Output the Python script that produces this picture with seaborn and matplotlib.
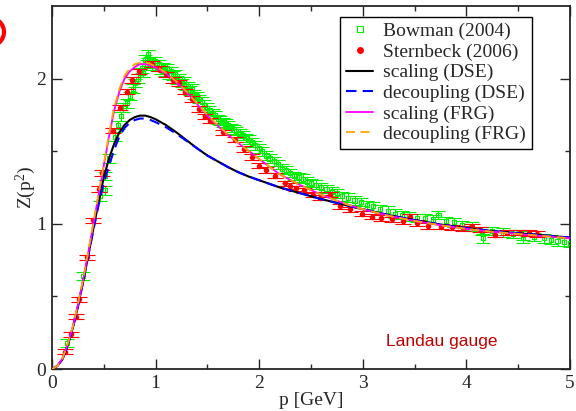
import numpy as np
import pandas as pd
import matplotlib
matplotlib.use("Agg")
import matplotlib.pyplot as plt
from matplotlib.lines import Line2D
from matplotlib.patches import Ellipse
import seaborn as sns

# ---------------- data ----------------
p_curve = [0, 0.05, 0.1, 0.15, 0.2, 0.25, 0.3, 0.35, 0.4, 0.45, 0.5, 0.55, 0.6, 0.65, 0.7,
           0.75, 0.8, 0.85, 0.9, 0.95, 1.0, 1.1, 1.2, 1.3, 1.4, 1.5, 1.6, 1.7, 1.8, 1.9, 2.0,
           2.2, 2.4, 2.6, 2.8, 3.0, 3.25, 3.5, 3.75, 4.0, 4.25, 4.5, 4.75, 5.0]
z_scaling_dse = [0, 0.02, 0.065, 0.16, 0.28, 0.43, 0.60, 0.78, 0.97, 1.15, 1.32, 1.45, 1.55,
                 1.63, 1.68, 1.715, 1.735, 1.745, 1.745, 1.735, 1.72, 1.68, 1.63, 1.575, 1.52,
                 1.47, 1.43, 1.39, 1.355, 1.325, 1.30, 1.25, 1.21, 1.17, 1.135, 1.10, 1.06,
                 1.025, 0.995, 0.97, 0.95, 0.935, 0.92, 0.905]
z_decoupling_dse = [0, 0.02, 0.065, 0.16, 0.28, 0.43, 0.60, 0.78, 0.96, 1.13, 1.28, 1.40, 1.51,
                    1.60, 1.66, 1.695, 1.715, 1.725, 1.725, 1.715, 1.70, 1.665, 1.62, 1.57, 1.52,
                    1.47, 1.43, 1.39, 1.355, 1.325, 1.30, 1.25, 1.21, 1.17, 1.135, 1.10, 1.06,
                    1.025, 0.995, 0.97, 0.95, 0.935, 0.92, 0.905]
z_scaling_frg = [0, 0.02, 0.07, 0.17, 0.29, 0.44, 0.61, 0.80, 1.00, 1.20, 1.40, 1.60, 1.78,
                 1.91, 2.00, 2.05, 2.08, 2.10, 2.10, 2.09, 2.075, 2.035, 1.975, 1.905, 1.825,
                 1.745, 1.675, 1.61, 1.555, 1.50, 1.445, 1.34, 1.265, 1.20, 1.145, 1.10, 1.055,
                 1.02, 0.99, 0.965, 0.945, 0.93, 0.915, 0.90]
z_decoupling_frg = [0, 0.02, 0.07, 0.17, 0.29, 0.45, 0.62, 0.81, 1.01, 1.21, 1.41, 1.62, 1.80,
                    1.93, 2.02, 2.07, 2.10, 2.11, 2.115, 2.10, 2.085, 2.04, 1.98, 1.91, 1.83,
                    1.75, 1.68, 1.615, 1.555, 1.50, 1.445, 1.34, 1.265, 1.20, 1.145, 1.10, 1.055,
                    1.02, 0.99, 0.965, 0.945, 0.93, 0.915, 0.90]

p_sternbeck = [0.125, 0.183, 0.228, 0.264, 0.341, 0.399, 0.457, 0.486, 0.592, 0.656, 0.72,
               0.775, 0.843, 0.962, 1.03, 1.10, 1.165, 1.226, 1.284, 1.348, 1.42, 1.477, 1.525,
               1.654, 1.766, 1.85, 1.93, 2.0, 2.07, 2.15, 2.25, 2.30, 2.36, 2.43, 2.52, 2.59,
               2.68, 2.78, 2.88, 2.99, 3.09, 3.18, 3.28, 3.39, 3.46, 3.52, 3.63, 3.75, 3.86,
               3.97, 4.05, 4.13, 4.28, 4.39, 4.52, 4.60, 4.68]
z_sternbeck = [0.12, 0.24, 0.36, 0.48, 0.77, 1.025, 1.24, 1.35, 1.64, 1.80, 1.91, 1.99, 2.05,
               2.10, 2.07, 2.03, 1.99, 1.97, 1.91, 1.86, 1.79, 1.74, 1.71, 1.63, 1.58, 1.515,
               1.46, 1.40, 1.37, 1.33, 1.28, 1.26, 1.245, 1.23, 1.20, 1.18, 1.20, 1.12, 1.10,
               1.07, 1.05, 1.04, 1.03, 1.02, 1.05, 1.005, 0.985, 0.98, 0.977, 0.97, 0.98, 0.96,
               0.924, 0.94, 0.94, 0.936, 0.93]

p_bowman = [0.142, 0.303, 0.463, 0.51, 0.51, 0.55, 0.61, 0.64, 0.67, 0.69, 0.72, 0.75, 0.78,
            0.80, 0.83, 0.85, 0.87, 0.88, 0.90, 0.92, 0.93, 0.95, 0.97, 0.99, 1.01, 1.03, 1.05,
            1.07, 1.09, 1.11, 1.13, 1.15, 1.17, 1.19, 1.21, 1.23, 1.25, 1.27, 1.29, 1.31, 1.33,
            1.35, 1.37, 1.40, 1.42, 1.45, 1.47, 1.50, 1.52, 1.55, 1.57, 1.60, 1.62, 1.65, 1.68,
            1.70, 1.73, 1.76, 1.78, 1.81, 1.84, 1.87, 1.90, 1.93, 1.96, 2.00, 2.03, 2.07, 2.10,
            2.14, 2.18, 2.22, 2.26, 2.30, 2.34, 2.38, 2.42, 2.46, 2.50, 2.55, 2.60, 2.65, 2.70,
            2.75, 2.80, 2.86, 2.92, 2.98, 3.04, 3.10, 3.17, 3.24, 3.31, 3.38, 3.45, 3.52, 3.60,
            3.68, 3.73, 3.80, 3.88, 3.96, 4.05, 4.15, 4.16, 4.25, 4.35, 4.45, 4.55, 4.55, 4.65,
            4.75, 4.82, 4.88, 4.94, 5.0]
z_bowman = [0.18, 0.64, 1.19, 1.23, 1.33, 1.45, 1.60, 1.68, 1.74, 1.80, 1.83, 1.88, 1.93,
            1.97, 2.00, 2.04, 2.07, 2.04, 2.13, 2.10, 2.17, 2.12, 2.09, 2.12, 2.08, 2.10, 2.06,
            2.08, 2.05, 2.07, 2.03, 2.05, 2.02, 2.03, 1.99, 2.00, 1.97, 1.98, 1.95, 1.95, 1.92,
            1.93, 1.89, 1.88, 1.86, 1.84, 1.82, 1.80, 1.78, 1.76, 1.75, 1.72, 1.71, 1.70, 1.69,
            1.68, 1.66, 1.65, 1.64, 1.62, 1.61, 1.59, 1.58, 1.56, 1.54, 1.52, 1.50, 1.47, 1.45,
            1.43, 1.41, 1.38, 1.37, 1.35, 1.33, 1.32, 1.31, 1.29, 1.28, 1.27, 1.25, 1.24, 1.22,
            1.21, 1.19, 1.18, 1.16, 1.15, 1.13, 1.12, 1.10, 1.09, 1.07, 1.06, 1.05, 1.04, 1.04,
            1.03, 1.06, 1.02, 1.01, 0.99, 0.98, 0.95, 0.90, 0.95, 0.94, 0.93, 0.92, 0.90, 0.91,
            0.90, 0.89, 0.88, 0.875, 0.87]

# ---------------- style ----------------
sns.set_style("ticks")
plt.rcParams["font.family"] = ["Liberation Serif", "DejaVu Serif"]
plt.rcParams["mathtext.fontset"] = "custom"
plt.rcParams["mathtext.rm"] = "Liberation Serif"
plt.rcParams["mathtext.default"] = "regular"

fig = plt.figure(figsize=(5.76, 4.11), dpi=100)
ax = fig.add_axes([52 / 576, 42 / 411, 518 / 576, 363 / 411])

# data with error bars
ax.errorbar(p_bowman, z_bowman, yerr=0.03, fmt="none", ecolor="#00ee00",
            elinewidth=0.8, capsize=5, capthick=0.8, zorder=2)
sns.scatterplot(x=p_bowman, y=z_bowman, ax=ax, marker="s", s=9,
                facecolor="none", edgecolor="#00ee00", linewidth=0.8, zorder=3)
ax.errorbar(p_sternbeck, z_sternbeck, yerr=0.018, fmt="none", ecolor="#ff0000",
            elinewidth=0.8, capsize=5.5, capthick=0.8, zorder=4)
sns.scatterplot(x=p_sternbeck, y=z_sternbeck, ax=ax, marker="o", s=16,
                color="#ff0000", edgecolor="#ff0000", linewidth=0, zorder=5)

# curves
sns.lineplot(x=p_curve, y=z_scaling_dse, ax=ax, color="black", lw=1.5, zorder=6)
sns.lineplot(x=p_curve, y=z_decoupling_dse, ax=ax, color="#0000ff", lw=1.5,
             zorder=7).lines[-1].set_dashes([5, 3])
sns.lineplot(x=p_curve, y=z_scaling_frg, ax=ax, color="#ff00ff", lw=1.3, zorder=8)
sns.lineplot(x=p_curve, y=z_decoupling_frg, ax=ax, color="#ffa500", lw=1.3,
             zorder=9).lines[-1].set_dashes([5, 3])

ax.set_xlim(0, 5)
ax.set_ylim(0, 2.5)
ax.set_xticks([0, 1, 2, 3, 4, 5])
ax.set_yticks([0, 1, 2])
ax.set_xticks([0.5, 1.5, 2.5, 3.5, 4.5], minor=True)
ax.set_yticks([0.5, 1.5], minor=True)
ax.tick_params(which="both", direction="in", top=True, right=True, width=1,
               labelsize=14, pad=4)
ax.tick_params(which="major", length=7)
ax.tick_params(which="minor", length=3.6)
for sp in ax.spines.values():
    sp.set_linewidth(1.3)
    sp.set_visible(True)
ax.set_xlabel("p [GeV]", fontsize=14, labelpad=0)
ax.set_ylabel("Z(p$^2$)", fontsize=14, labelpad=-1)

ax.text(3.76, 0.186, "Landau gauge", color="#c00000", fontsize=12.5,
        family="Liberation Sans", ha="center", va="center")

handles = [
    Line2D([], [], ls="none", marker="s", ms=4, mfc="none", mec="#00ee00", mew=0.8),
    Line2D([], [], ls="none", marker="o", ms=4, color="#ff0000"),
    Line2D([], [], color="black", lw=1.5),
    Line2D([], [], color="#0000ff", lw=1.5, dashes=[5, 3]),
    Line2D([], [], color="#ff00ff", lw=1.3),
    Line2D([], [], color="#ffa500", lw=1.3, dashes=[5, 3]),
]
labels = ["Bowman (2004)", "Sternbeck (2006)", "scaling (DSE)", "decoupling (DSE)",
          "scaling (FRG)", "decoupling (FRG)"]
leg = ax.legend(handles, labels, loc="upper right", bbox_to_anchor=(0.926, 0.9705),
                fontsize=14, frameon=True, fancybox=False, framealpha=1,
                edgecolor="black", handlelength=1.4, handletextpad=0.5,
                labelspacing=0.15, borderpad=0.3, borderaxespad=0)
leg.get_frame().set_linewidth(1.0)

# partial red mark at the left edge
fig.add_artist(Ellipse((-10 / 576, 1 - 32 / 411), 28 / 576, 28 / 411,
                       transform=fig.transFigure, facecolor="none",
                       edgecolor="#ff0000", lw=3, clip_on=False))

fig.savefig("out.png", dpi=100)
